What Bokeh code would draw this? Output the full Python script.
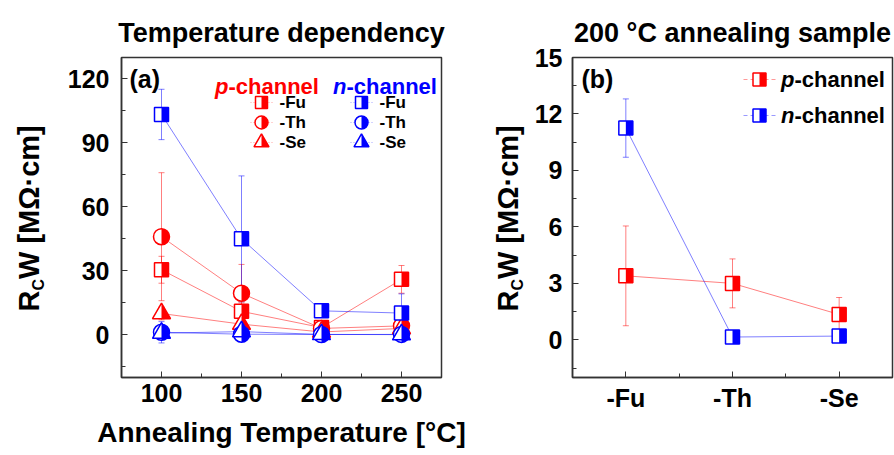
import numpy as np
from bokeh.plotting import figure
from bokeh.layouts import row
from bokeh.models import ColumnDataSource, FixedTicker, Label, Range1d, TeeHead, Whisker
from bokeh.embed import file_html
from bokeh.resources import INLINE

# ---- (a) contact resistance R_C*W [MOhm*cm] versus annealing temperature [°C]
temps = [100, 150, 200, 250]
temp_ticks = [100, 150, 200, 250]

p_fu = [30.5, 11.0, 3.4, 26.0]
p_fu_err = [6.3, 4.0, 2.65, 6.5]
p_th = [46.0, 19.5, 3.0, 4.2]
p_th_err = [30.0, 13.5, 1.3, 1.5]
p_se = [10.0, 5.0, 1.35, 3.0]
p_se_err = [3.0, 2.0, 0.9, 1.0]

n_fu = [103.3, 45.0, 11.25, 10.2]
n_fu_err = [11.8, 29.5, 1.55, 9.0]
n_th = [1.2, 0.3, 0.15, 0.2]
n_th_err = [5.0, 2.0, 0.1, 0.3]
n_se = [0.8, 1.5, 0.2, 0.1]
n_se_err = [1.0, 2.0, 0.1, 0.3]

# ---- (b) 200 °C annealed samples
samples = ["-Fu", "-Th", "-Se"]
sample_pos = [1, 2, 3]
b_p = [3.4, 3.0, 1.35]
b_p_err = [2.65, 1.3, 0.9]
b_n = [11.25, 0.15, 0.2]
b_n_err = [1.55, 0.1, 0.1]

FONT = "Liberation Sans"
RED = "#ff0000"
BLUE = "#0000ff"
AX = "#333333"
FW, FH = 320, 320
TOP, BOTTOM = 57, 78


def make_fig(title, xr, yr, left, right, ylabel_standoff=12):
    p = figure(frame_width=FW, frame_height=FH, x_range=xr, y_range=yr, title=title,
               output_backend="svg", toolbar_location=None,
               min_border_left=left, min_border_right=right,
               min_border_top=TOP, min_border_bottom=BOTTOM,
               background_fill_color="white", border_fill_color="white")
    p.extra_x_ranges["px"] = Range1d(0, FW)
    p.extra_y_ranges["px"] = Range1d(0, FH)
    p.title.text_font = FONT
    p.title.text_font_style = "bold"
    p.title.text_font_size = "27px"
    p.title.text_color = "black"
    p.title.align = "center"
    p.title.standoff = 20
    p.grid.visible = False
    p.outline_line_color = AX
    p.outline_line_width = 1.5
    p.outline_line_alpha = 1.0
    for ax in (p.xaxis, p.yaxis):
        ax.axis_line_color = AX
        ax.axis_line_width = 1.5
        ax.major_tick_line_color = AX
        ax.minor_tick_line_color = AX
        ax.major_tick_in = 6
        ax.major_tick_out = 0
        ax.minor_tick_in = 4
        ax.minor_tick_out = 0
        ax.major_label_text_font = FONT
        ax.major_label_text_font_style = "bold"
        ax.major_label_text_font_size = "25px"
        ax.major_label_text_color = "black"
    p.xaxis.major_label_standoff = 6
    p.yaxis.major_label_standoff = ylabel_standoff
    return p


def label_strip(width):
    """Axis-free strip beside a panel that holds its rotated y-axis title."""
    s = figure(frame_width=width, frame_height=FH, x_axis_type=None, y_axis_type=None,
               output_backend="svg", toolbar_location=None,
               min_border_left=0, min_border_right=0,
               min_border_top=TOP, min_border_bottom=BOTTOM,
               outline_line_color=None, background_fill_color="white",
               border_fill_color="white")
    s.grid.visible = False
    return s


def half_filled(p, x, y, shape, color, size, sx, sy, rng="default"):
    """Marker with an open left half and a solid right half."""
    x = np.asarray(x, float)
    y = np.asarray(y, float)
    kw = dict(x_range_name=rng, y_range_name=rng)
    r = size / 2
    p.scatter(x, y, marker=shape, size=size, fill_color="white", line_color=None, **kw)
    if shape == "square":
        p.quad(left=x, right=x + r / sx, bottom=y - r / sy, top=y + r / sy,
               fill_color=color, line_color=None, **kw)
    elif shape == "circle":
        p.wedge(x, y, radius=r, radius_units="screen", start_angle=-np.pi / 2,
                end_angle=np.pi / 2, fill_color=color, line_color=None, **kw)
    else:
        h = r * np.sqrt(3)
        a = h / 3
        xs = [[xi, xi + r / sx, xi] for xi in x]
        ys = [[yi - a / sy, yi - a / sy, yi + (h - a) / sy] for yi in y]
        p.patches(xs, ys, fill_color=color, line_color=None, **kw)
    p.scatter(x, y, marker=shape, size=size, fill_color=None, line_color=color,
              line_width=1.5, **kw)


def error_bars(p, x, y, err, color):
    y = np.asarray(y, float)
    err = np.asarray(err, float)
    src = ColumnDataSource(dict(x=x, upper=y + err, lower=y - err))
    head = dict(size=6, line_color=color, line_alpha=0.5, line_width=1)
    p.add_layout(Whisker(base="x", upper="upper", lower="lower", source=src,
                         line_color=color, line_alpha=0.5, line_width=1, level="underlay",
                         upper_head=TeeHead(**head), lower_head=TeeHead(**head)))


def label(p, x, y, text, size, color="black", style="bold", align="left",
          baseline="alphabetic", angle=0.0):
    p.add_layout(Label(x=x, y=y, x_units="screen", y_units="screen", text=text,
                       text_font=FONT, text_font_style=style, text_font_size=f"{size}px",
                       text_color=color, text_align=align, text_baseline=baseline,
                       angle=angle))


def y_label(p, x0, y0, size=29, sub=16):
    # R_C W [MΩ·cm], written bottom-to-top with a subscript C
    rot = np.pi / 2
    label(p, x0, y0, "R", size, angle=rot)
    label(p, x0 + 10, y0 + 0.722 * size, "C", sub, angle=rot)
    label(p, x0, y0 + 0.722 * size + 0.722 * sub, "W [MΩ·cm]", size, angle=rot)


# ================= panel (a)
pa = make_fig("Temperature dependency", Range1d(75, 275), Range1d(-20, 130), 61, 36)
pa.xaxis.ticker = FixedTicker(ticks=temp_ticks, minor_ticks=[125, 175, 225])
pa.yaxis.ticker = FixedTicker(ticks=[0, 30, 60, 90, 120], minor_ticks=[-15, 15, 45, 75, 105])
pa.xaxis.axis_label = "Annealing Temperature [°C]"
pa.xaxis.axis_label_text_font = FONT
pa.xaxis.axis_label_text_font_style = "bold"
pa.xaxis.axis_label_text_font_size = "28px"
pa.xaxis.axis_label_text_color = "black"
pa.xaxis.axis_label_standoff = 12

sxa = FW / 200.0
sya = FH / 150.0
series_a = [
    (p_fu, p_fu_err, "square", 14, RED),
    (p_th, p_th_err, "circle", 16, RED),
    (p_se, p_se_err, "triangle", 18, RED),
    (n_fu, n_fu_err, "square", 14, BLUE),
    (n_th, n_th_err, "circle", 16, BLUE),
    (n_se, n_se_err, "triangle", 18, BLUE),
]
for vals, err, shape, size, color in series_a:
    error_bars(pa, temps, vals, err, color)
    pa.line(temps, vals, line_color=color, line_alpha=0.5, line_width=1)
for vals, err, shape, size, color in series_a:
    half_filled(pa, temps, vals, shape, size=size, color=color, sx=sxa, sy=sya)

# legend of panel (a)
label(pa, 8, 299, "(a)", 25, baseline="middle")
label(pa, 107, 291, "p", 22, color=RED, style="bold italic", align="right")
label(pa, 107, 291, "-channel", 22, color=RED)
label(pa, 225, 291, "n", 22, color=BLUE, style="bold italic", align="right")
label(pa, 225, 291, "-channel", 22, color=BLUE)
legend_rows = [("square", 12, samples[0], 275), ("circle", 13, samples[1], 255),
               ("triangle", 15, samples[2], 235)]
for mx, color in ((140, RED), (240, BLUE)):
    for shape, size, name, ly in legend_rows:
        pa.line([mx - 11, mx + 11], [ly, ly], line_color=color, line_alpha=0.35,
                line_width=1, line_dash="1 2", x_range_name="px", y_range_name="px")
        half_filled(pa, [mx], [ly], shape, color, size, 1.0, 1.0, rng="px")
        label(pa, mx + 18, ly, name, 17, baseline="middle")

ya = label_strip(60)
y_label(ya, 28, 66)

# ================= panel (b)
pb = make_fig("200 °C annealing sample", Range1d(0.5, 3.5), Range1d(-2, 15), 38, 5,
              ylabel_standoff=10)
pb.xaxis.ticker = FixedTicker(ticks=sample_pos, minor_ticks=[1.5, 2.5])
pb.xaxis.major_label_overrides = {pos: name for pos, name in zip(sample_pos, samples)}
pb.yaxis.ticker = FixedTicker(ticks=[0, 3, 6, 9, 12, 15], minor_ticks=[-1.5, 1.5, 4.5, 7.5, 10.5, 13.5])

sxb = FW / 3.0
syb = FH / 17.0
for vals, err, color in ((b_p, b_p_err, RED), (b_n, b_n_err, BLUE)):
    error_bars(pb, sample_pos, vals, err, color)
    pb.line(sample_pos, vals, line_color=color, line_alpha=0.5, line_width=1)
for vals, err, color in ((b_p, b_p_err, RED), (b_n, b_n_err, BLUE)):
    half_filled(pb, sample_pos, vals, "square", color, 14, sxb, syb)

label(pb, 9, 299, "(b)", 25, baseline="middle")
for ly, color, letter in ((298, RED, "p"), (262, BLUE, "n")):
    pb.line([171, 203], [ly, ly], line_color=color, line_alpha=0.4, line_width=1,
            line_dash="4 3", x_range_name="px", y_range_name="px")
    half_filled(pb, [187], [ly], "square", color, 13, 1.0, 1.0, rng="px")
    label(pb, 222, ly, letter, 22, style="bold italic", align="right", baseline="middle")
    label(pb, 222, ly, "-channel", 22, baseline="middle")

yb = label_strip(54)
y_label(yb, 30, 66)

layout = row(ya, pa, yb, pb)
open("out.html", "w").write(file_html(layout, INLINE))
